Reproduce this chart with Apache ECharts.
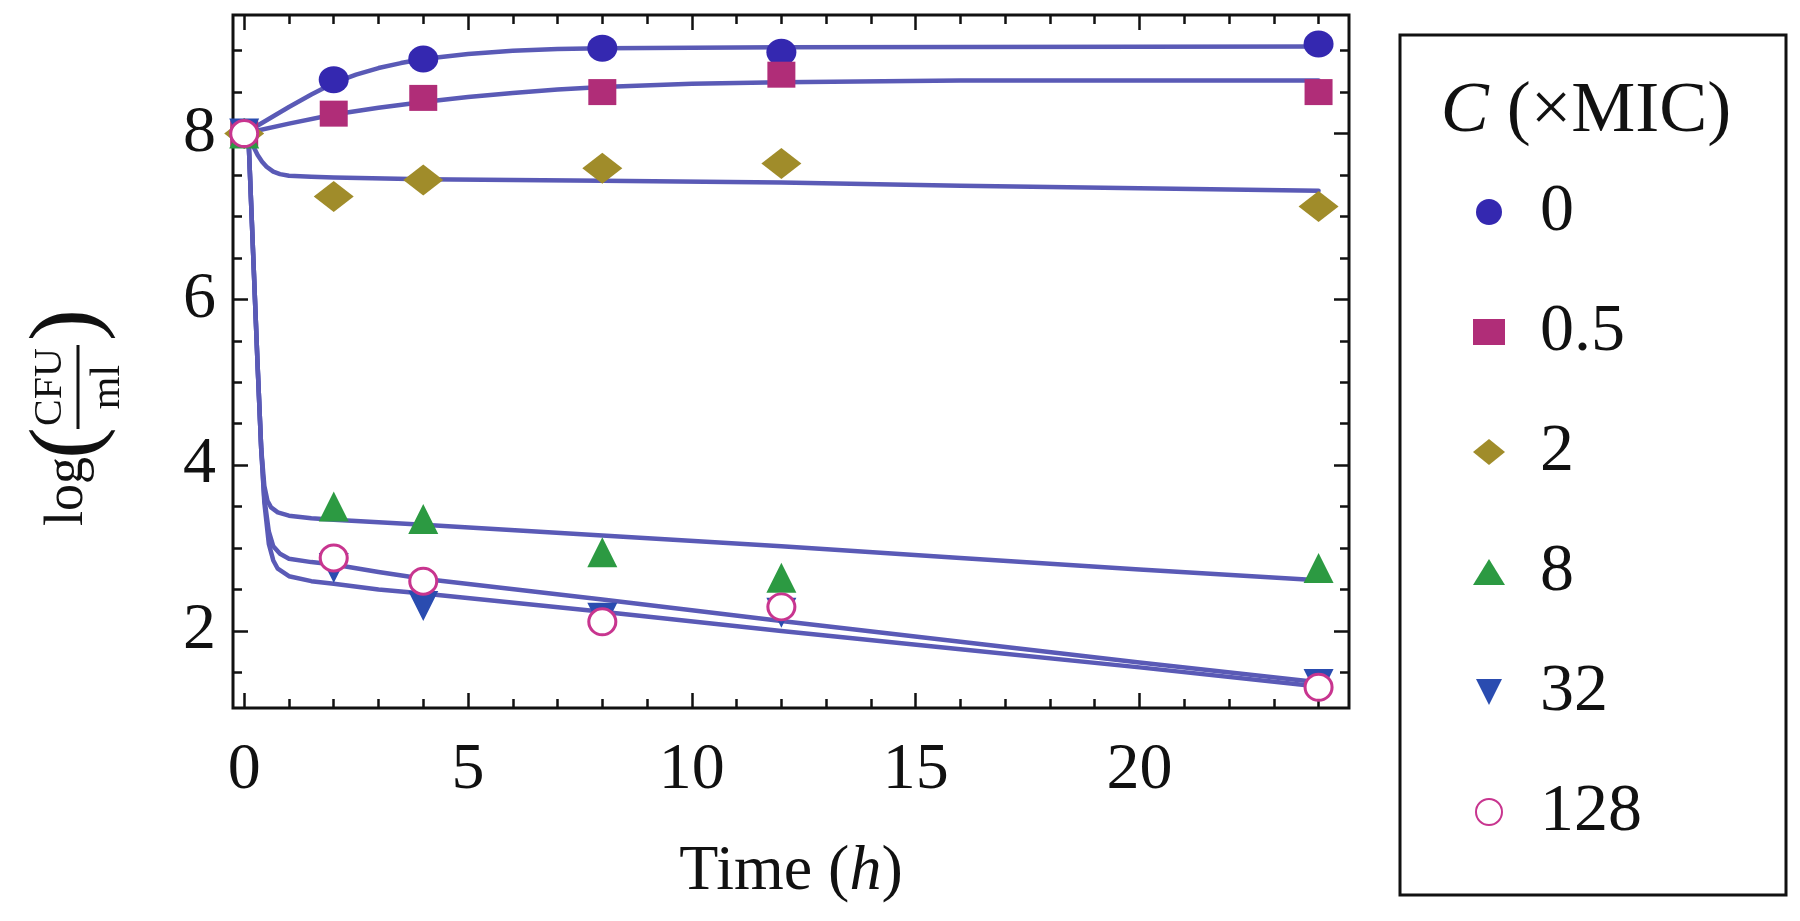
<!DOCTYPE html>
<html><head><meta charset="utf-8">
<script src="https://cdn.jsdelivr.net/npm/echarts@6/dist/echarts.min.js"></script>
<style>html,body{margin:0;padding:0;background:#fff}#c{width:1800px;height:921px}</style>
</head><body><div id="c"></div>
<script>
// ---- data ----
const times = [0, 2, 4, 8, 12, 24];
const concLabels = ['0', '0.5', '2', '8', '32', '128'];
const obs0   = [8.0, 8.65, 8.90, 9.03, 8.98, 9.08];
const obs05  = [8.0, 8.24, 8.43, 8.50, 8.71, 8.50];
const obs2   = [8.0, 7.24, 7.44, 7.58, 7.64, 7.12];
const obs8   = [8.0, 3.50, 3.35, 2.95, 2.64, 2.76];
const obs32  = [8.0, 2.76, 2.30, 2.16, 2.22, 1.36];
const obs128 = [8.0, 2.88, 2.60, 2.11, 2.29, 1.32];

// fitted model curves [time, log CFU/ml]
const fit0 = [[0,8.0],[0.5,8.16],[1,8.32],[1.5,8.47],[2,8.61],[2.5,8.71],[3,8.79],[3.5,8.85],[4,8.9],[5,8.96],[6,9.0],[7,9.02],[8,9.03],[12,9.04],[24,9.05]];
const fit05 = [[0,8.0],[1,8.12],[2,8.23],[3,8.31],[4,8.38],[5,8.44],[6,8.49],[7,8.53],[8,8.56],[10,8.6],[12,8.62],[16,8.64],[24,8.64]];
const fit2 = [[0,8.0],[0.1,7.97],[0.2,7.85],[0.3,7.74],[0.4,7.66],[0.5,7.6],[0.65,7.54],[0.8,7.51],[1,7.49],[1.5,7.48],[2,7.47],[4,7.45],[8,7.43],[12,7.41],[16,7.37],[20,7.34],[24,7.31]];
const fit8 = [[0,8.0],[0.1,7.9],[0.2,6.55],[0.3,5.2],[0.38,4.2],[0.45,3.75],[0.52,3.57],[0.6,3.49],[0.75,3.43],[1,3.39],[1.5,3.36],[2,3.34],[4,3.28],[8,3.15],[12,3.02],[16,2.88],[20,2.74],[24,2.61]];
const fit128 = [[0,8.0],[0.1,7.9],[0.2,6.55],[0.3,5.2],[0.38,4.2],[0.45,3.6],[0.55,3.2],[0.65,3.02],[0.8,2.93],[1,2.87],[1.5,2.83],[2,2.8],[3,2.71],[4,2.63],[8,2.38],[12,2.12],[16,1.87],[20,1.62],[24,1.38]];
const fit32 = [[0,8.0],[0.1,7.9],[0.2,6.55],[0.3,5.2],[0.38,4.2],[0.45,3.55],[0.55,3.05],[0.65,2.85],[0.75,2.75],[1,2.66],[1.5,2.6],[2,2.57],[3,2.5],[4,2.45],[8,2.23],[12,2.0],[16,1.78],[20,1.56],[24,1.33]];

const xMajorTicks = [0, 5, 10, 15, 20];
const xMinorTicks = [1,2,3,4,6,7,8,9,11,12,13,14,16,17,18,19,21,22,23,24];
const yMajorTicks = [2, 4, 6, 8];
const yMinorTicks = [1.5,2.5,3,3.5,4.5,5,5.5,6.5,7,7.5,8.5,9];

// ---- styling ----
const FONT = '"Liberation Serif", "DejaVu Serif", serif';
const INK = '#111';
const X_MIN = -0.25, X_MAX = 24.68, Y_MIN = 1.07, Y_MAX = 9.43;
const LINE_COLOR = '#5a5ab6';

const markerStyles = [
  { obs: obs0,   symbol: 'circle',  size: [30, 27], item: { color: '#3428b0', opacity: 1 } },
  { obs: obs05,  symbol: 'rect',    size: [28, 26], item: { color: '#b02d78', opacity: 1 } },
  { obs: obs2,   symbol: 'diamond', size: [40, 31], item: { color: '#a08c2a', opacity: 1 } },
  { obs: obs8,   symbol: 'triangle',size: [30, 30], item: { color: '#2c9a42', opacity: 1 } },
  { obs: obs32,  symbol: 'path://M0,0L10,0L5,10Z', size: [30, 30], item: { color: '#2a4cb0', opacity: 1 } },
  { obs: obs128, symbol: 'circle',  size: [27, 26], item: { color: '#ffffff', borderColor: '#c8358f', borderWidth: 3, opacity: 1 } }
];
const fits = [fit0, fit05, fit2, fit8, fit32, fit128];

const tickLine = { color: INK, width: 2.5 };
function axis(kind, pos, ticks, len, labels) {
  const isX = kind === 'x';
  return {
    type: 'value', position: pos,
    min: isX ? X_MIN : Y_MIN, max: isX ? X_MAX : Y_MAX,
    splitLine: { show: false }, axisLine: { show: false, onZero: false },
    axisTick: { show: true, inside: true, length: len, customValues: ticks, lineStyle: tickLine },
    axisLabel: labels ? { show: true, customValues: ticks, fontSize: 66, fontFamily: FONT, color: INK, margin: isX ? 30 : 17 } : { show: false }
  };
}

const xAxes = [axis('x', 'bottom', xMajorTicks, 15, true), axis('x', 'bottom', xMinorTicks, 9, false),
               axis('x', 'top', xMajorTicks, 15, false), axis('x', 'top', xMinorTicks, 9, false)];
xAxes[0].name = '{r|Time (}{i|h}{r|)}';
xAxes[0].nameLocation = 'middle';
xAxes[0].nameGap = 132;
xAxes[0].nameTextStyle = { rich: {
  r: { fontSize: 64, fontFamily: FONT, color: INK },
  i: { fontSize: 64, fontFamily: FONT, color: INK, fontStyle: 'italic' } } };
const yAxes = [axis('y', 'left', yMajorTicks, 15, true), axis('y', 'left', yMinorTicks, 9, false),
               axis('y', 'right', yMajorTicks, 15, false), axis('y', 'right', yMinorTicks, 9, false)];

const series = [];
fits.forEach((f, i) => series.push({
  name: 'fit ' + concLabels[i], type: 'line', data: f, xAxisIndex: 0, yAxisIndex: 0,
  symbol: 'none', smooth: false, silent: true, z: 2,
  lineStyle: { color: LINE_COLOR, width: 4.5, join: 'round', cap: 'round' }
}));
markerStyles.forEach((m, i) => series.push({
  name: concLabels[i], type: 'scatter', xAxisIndex: 0, yAxisIndex: 0,
  data: times.map((t, j) => [t, m.obs[j]]),
  symbol: m.symbol, symbolSize: m.size, itemStyle: m.item, z: 3 + i
}));

const chart = echarts.init(document.getElementById('c'), null, { renderer: 'canvas' });
chart.setOption({
  animation: false,
  backgroundColor: '#fff',
  grid: { left: 233, top: 15, width: 1116, height: 693, show: true, borderColor: INK, borderWidth: 3,
          backgroundColor: '#fff', containLabel: false, outerBoundsMode: 'none' },
  xAxis: xAxes,
  yAxis: yAxes,
  legend: {
    orient: 'vertical', left: 1473, top: 177, padding: 0,
    itemWidth: 32, itemHeight: 26, itemGap: 50, selectedMode: false,
    data: concLabels,
    textStyle: { fontSize: 68, lineHeight: 70, fontFamily: FONT, color: INK, padding: [0, 0, 0, 30] }
  },
  graphic: [
    { type: 'rect', shape: { x: 1400, y: 35, width: 386, height: 860 },
      style: { fill: 'none', stroke: INK, lineWidth: 3 } },
    { type: 'text', x: 1586, y: 112, style: {
        text: '{i|C} (×MIC)', fontSize: 72, fontFamily: FONT, fill: INK, align: 'center', verticalAlign: 'middle',
        rich: { i: { fontSize: 72, fontFamily: FONT, fontStyle: 'italic', fill: INK } } } },
    { type: 'group', x: 78, y: 419, rotation: Math.PI / 2, children: [
      { type: 'text', x: -38, y: -10, style: { text: 'log', fontSize: 54, fontFamily: FONT, fill: INK, align: 'right', verticalAlign: 'middle' } },
      { type: 'text', x: -24, y: -8, style: { text: '(', fontSize: 96, fontFamily: FONT, fill: INK, align: 'center', verticalAlign: 'middle' } },
      { type: 'text', x: 32, y: -28, style: { text: 'CFU', fontSize: 40, fontFamily: FONT, fill: INK, align: 'center', verticalAlign: 'middle' } },
      { type: 'line', shape: { x1: -10, y1: 0, x2: 74, y2: 0 }, style: { stroke: INK, lineWidth: 3 } },
      { type: 'text', x: 32, y: 30, style: { text: 'ml', fontSize: 42, fontFamily: FONT, fill: INK, align: 'center', verticalAlign: 'middle' } },
      { type: 'text', x: 94, y: -8, style: { text: ')', fontSize: 96, fontFamily: FONT, fill: INK, align: 'center', verticalAlign: 'middle' } }
    ] }
  ],
  series: series
});
</script></body></html>
